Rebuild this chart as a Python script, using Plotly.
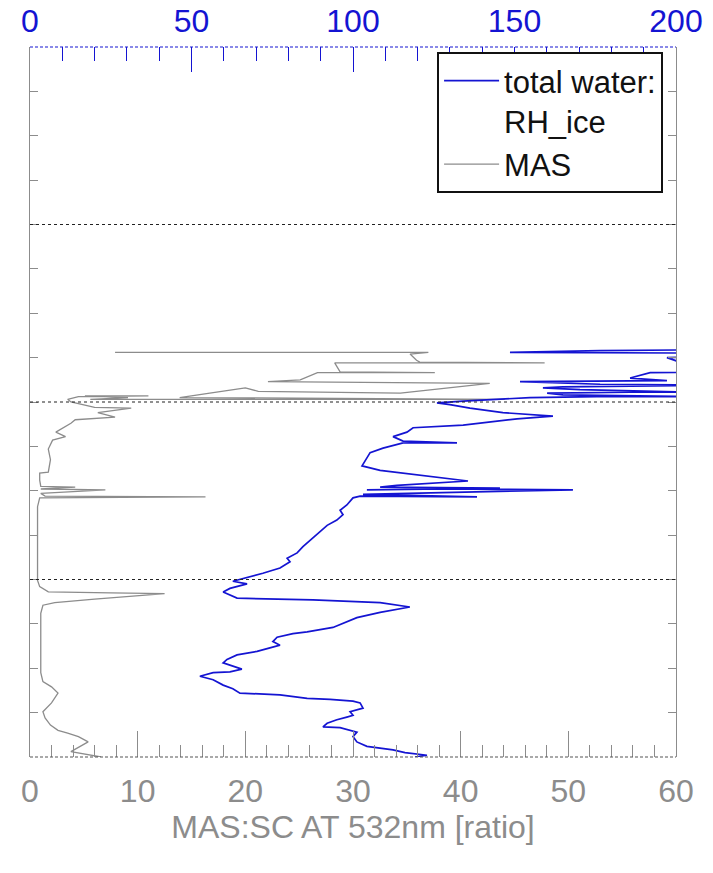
import plotly.graph_objects as go

# Relative humidity over ice from total water (top axis, %), by altitude (km)
rh_alt = [10.00, 10.02, 10.05, 10.08, 10.12, 10.17, 10.23, 10.28, 10.33, 10.34,
          10.38, 10.42, 10.45, 10.47, 10.51, 10.55, 10.61, 10.63, 10.65, 10.66,
          10.70, 10.72, 10.77, 10.81, 10.87, 10.91, 10.95, 10.96, 10.99, 11.03,
          11.06, 11.10, 11.15, 11.19, 11.23, 11.26, 11.30, 11.35, 11.39, 11.41,
          11.46, 11.57, 11.63, 11.69, 11.74, 11.77, 11.79, 11.83, 11.86, 11.90,
          11.95, 11.98, 12.02, 12.07, 12.13, 12.20, 12.24, 12.30, 12.37, 12.47,
          12.54, 12.61, 12.67, 12.73, 12.78, 12.84, 12.92, 12.94, 12.93, 12.96,
          13.01, 13.02, 13.01, 13.03, 13.04, 13.06, 13.11, 13.18, 13.23, 13.28,
          13.37, 13.43, 13.48, 13.54, 13.54, 13.56, 13.61, 13.66, 13.71, 13.74,
          13.81, 13.84, 13.88, 13.93, 13.97, 13.99, 14.01, 14.05, 14.06, 14.06,
          14.08, 14.10, 14.11, 14.11, 14.14, 14.16, 14.17, 14.19, 14.20, 14.23,
          14.24, 14.27, 14.33, 14.34, 14.50, 14.51, 14.55, 14.56, 14.58, 14.59]
rh_val = [119.2, 122.9, 116.1, 112.4, 104.3, 101.2, 100.0, 101.2, 96.0, 90.7,
          92.0, 95.0, 98.1, 100.0, 99.1, 103.1, 102.2, 100.0, 92.9, 85.8,
          77.4, 65.0, 62.8, 59.8, 56.7, 52.6, 56.7, 61.9, 65.6, 61.9,
          59.8, 61.0, 64.1, 70.3, 74.3, 77.4, 75.2, 76.5, 81.4, 85.8,
          93.8, 101.2, 108.4, 117.6, 108.4, 87.6, 64.1, 61.9, 59.8, 61.9,
          67.2, 62.8, 67.2, 72.1, 77.4, 80.5, 79.6, 82.7, 84.5, 87.6,
          89.8, 92.0, 95.0, 96.9, 96.0, 98.1, 100.0, 102.2, 138.4, 103.1,
          168.1, 123.8, 104.3, 145.5, 108.4, 113.6, 135.6, 118.6, 108.4, 102.8,
          104.3, 105.3, 109.3, 115.5, 132.2, 115.5, 112.4, 116.7, 118.6, 134.1,
          150.8, 161.9, 146.4, 136.2, 130.0, 126.0, 134.1, 154.8, 175.5, 210.0,
          165.0, 160.1, 185.8, 205.0, 170.3, 158.8, 165.0, 210.0, 176.5, 151.7,
          197.2, 185.8, 192.0, 210.0, 197.2, 210.0, 215.0, 148.6, 176.5, 215.0]

# MAS scattering ratio at 532 nm (bottom axis), by altitude (km)
mas_alt = [10.00, 10.06, 10.17, 10.23, 10.27, 10.30, 10.36, 10.44, 10.51, 10.61,
           10.72, 10.79, 10.85, 10.95, 11.32, 11.62, 11.71, 11.74, 11.78, 11.84,
           11.85, 11.86, 11.92, 11.99, 12.82, 12.92, 12.93, 12.94, 12.97, 13.01,
           13.02, 13.04, 13.05, 13.12, 13.20, 13.21, 13.35, 13.47, 13.57, 13.61,
           13.66, 13.76, 13.80, 13.83, 13.88, 13.93, 13.94, 13.98, 14.00, 14.03,
           14.06, 14.07, 14.07, 14.05, 14.03, 14.03, 14.05, 14.10, 14.16, 14.12,
           14.10, 14.21, 14.23, 14.25, 14.33, 14.33, 14.34, 14.44, 14.44, 14.45,
           14.47, 14.54, 14.56, 14.56]
mas_val = [6.6, 3.8, 5.4, 4.5, 3.5, 2.6, 1.9, 1.4, 1.2, 2.0,
           2.6, 2.0, 1.2, 1.0, 1.0, 1.0, 1.2, 2.3, 6.0, 12.5,
           7.5, 1.7, 0.9, 0.7, 0.7, 0.9, 16.3, 1.4, 1.0, 7.0,
           1.0, 4.2, 1.0, 0.9, 0.9, 1.7, 1.9, 1.7, 2.1, 3.3,
           2.4, 3.8, 4.2, 7.9, 6.3, 9.4, 6.0, 4.5, 3.8, 3.5,
           4.5, 11.0, 5.1, 9.1, 5.6, 44.1, 13.9, 16.7, 20.0, 21.2,
           34.4, 42.7, 22.1, 25.1, 26.7, 37.6, 28.8, 28.3, 47.8, 36.2,
           35.9, 35.3, 37.0, 7.9]

layer_bounds = [12.0, 14.0, 16.0]   # dotted reference altitudes
alt_range = [10.0, 18.0]
mas_range = [0, 60]
rh_range = [0, 200]

GREY = "#8c8c8c"
BLUE = "#1414d2"
FONT = "Liberation Sans, Arial, sans-serif"

fig = go.Figure()
fig.add_trace(go.Scatter(
    x=rh_val, y=rh_alt, xaxis="x2", yaxis="y", mode="lines",
    name="total water:<br>RH_ice", line=dict(color=BLUE, width=1.7)))
fig.add_trace(go.Scatter(
    x=mas_val, y=mas_alt, xaxis="x", yaxis="y", mode="lines",
    name="MAS", line=dict(color=GREY, width=1.3)))

shapes = []
for b in layer_bounds:
    shapes.append(dict(type="line", xref="paper", yref="y", x0=0, x1=1, y0=b, y1=b,
                       line=dict(color="#222222", width=1.2, dash="3px,3px")))
# frame: dashed top (blue) and bottom (grey) edges
shapes.append(dict(type="line", xref="paper", yref="paper", x0=0, x1=1, y0=1, y1=1,
                   line=dict(color=BLUE, width=1.2, dash="3px,2px")))
shapes.append(dict(type="line", xref="paper", yref="paper", x0=0, x1=1, y0=0, y1=0,
                   line=dict(color="#555555", width=1.2, dash="3px,2px")))

fig.update_layout(
    width=713, height=873,
    margin=dict(l=30, r=37, t=47, b=116, autoexpand=False),
    paper_bgcolor="white", plot_bgcolor="white",
    font=dict(family=FONT, size=26, color=GREY),
    showlegend=True,
    legend=dict(x=0.98, xanchor="right", y=0.993, yanchor="top",
                bgcolor="white", bordercolor="#111111", borderwidth=2,
                font=dict(family=FONT, size=31, color="#111111"),
                itemwidth=55, valign="top", tracegroupgap=2),
    xaxis=dict(range=mas_range, dtick=10, ticks="inside", ticklen=26,
               tickcolor=GREY, tickwidth=1, showgrid=False, zeroline=False,
               showline=False, ticklabelstandoff=12, automargin=False,
               minor=dict(dtick=2, ticks="inside", ticklen=12, tickcolor=GREY),
               tickfont=dict(size=32, color=GREY),
               title=dict(text="MAS:SC AT 532nm [ratio]", standoff=4,
                          font=dict(size=32, color=GREY))),
    xaxis2=dict(range=rh_range, dtick=50, overlaying="x", side="top", anchor="y",
                ticks="inside", ticklen=25, tickcolor=BLUE, tickwidth=1,
                showgrid=False, zeroline=False, showline=False,
                ticklabelstandoff=8, automargin=False,
                minor=dict(dtick=10, ticks="inside", ticklen=14, tickcolor=BLUE),
                tickfont=dict(size=32, color=BLUE)),
    yaxis=dict(range=alt_range, dtick=0.5, ticks="inside", ticklen=8,
               tickcolor=GREY, showticklabels=False, showgrid=False,
               zeroline=False, showline=True, linecolor=GREY, linewidth=1.2,
               mirror="ticks", automargin=False),
    shapes=shapes,
)

fig.write_html("out.html")
